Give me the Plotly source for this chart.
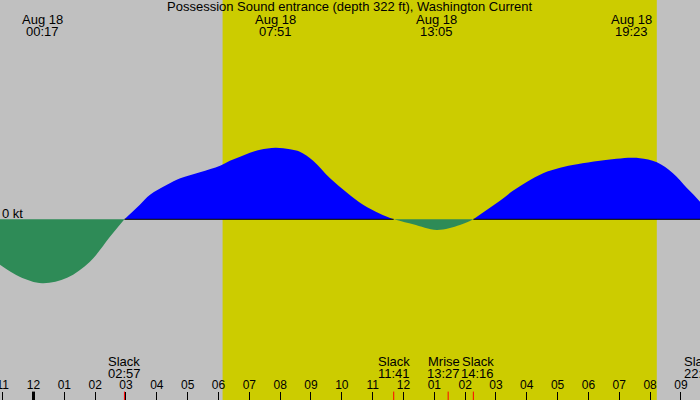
import plotly.graph_objs as go

# hours after midnight Aug 18, current in knots (+ ebb, - flood)
flood1_t = [-1.09, -0.45, 0.283, 1.09, 1.83, 2.48, 2.95]
flood1_v = [-0.91, -1.15, -1.28, -1.17, -0.85, -0.35, 0.0]

ebb1_t = [2.95, 3.45, 3.78, 4.33, 4.76, 5.40, 6.05, 6.37, 6.70, 7.02, 7.35, 7.85,
          8.32, 8.64, 9.07, 9.62, 10.17, 10.69, 11.24, 11.683]
ebb1_v = [0.0, 0.29, 0.49, 0.69, 0.82, 0.94, 1.07, 1.17, 1.25, 1.33, 1.39, 1.43,
          1.40, 1.35, 1.17, 0.82, 0.53, 0.29, 0.11, 0.0]

flood2_t = [11.683, 12.31, 13.083, 13.83, 14.267]
flood2_v = [0.0, -0.10, -0.214, -0.114, 0.0]

ebb2_t = [14.267, 14.71, 15.13, 15.55, 16.01, 16.53, 17.08, 17.63, 18.37,
          19.383, 19.67, 20.22, 20.74, 21.20, 21.62, 22.05]
ebb2_v = [0.0, 0.19, 0.37, 0.57, 0.75, 0.92, 1.03, 1.10, 1.17,
          1.23, 1.22, 1.14, 0.92, 0.62, 0.35, 0.0]

peak_times = ["00:17", "07:51", "13:05", "19:23"]
slack_times = ["02:57", "11:41", "14:16", "22:03"]
moonrise = "13:27"
sunrise = "06:08"
sunset = "20:13"

hour_vals = list(range(-1, 23))
hour_text = ["11", "12", "01", "02", "03", "04", "05", "06", "07", "08", "09", "10",
             "11", "12", "01", "02", "03", "04", "05", "06", "07", "08", "09", "10"]

title = "Possession Sound entrance (depth 322 ft), Washington Current"

x_range = [-1.0866, 21.618]
y_range = [-3.614, 4.386]

GREY = "#c0c0c0"
DAY = "#cccc00"
FONT = "Liberation Sans"
W, H = 700, 400


def to_hours(s):
    h, m = s.split(":")
    return int(h) + int(m) / 60.0


fig = go.Figure()

for t, v in [(flood1_t, flood1_v), (flood2_t, flood2_v)]:
    fig.add_trace(go.Scatter(x=t, y=v, mode="lines", line=dict(color="#2e8b57", width=0, shape="spline"),
                             fill="tozeroy", fillcolor="#2e8b57", hoverinfo="skip"))
for t, v in [(ebb1_t, ebb1_v), (ebb2_t, ebb2_v)]:
    fig.add_trace(go.Scatter(x=t, y=v, mode="lines", line=dict(color="#0000ff", width=0, shape="spline"),
                             fill="tozeroy", fillcolor="#0000ff", hoverinfo="skip"))

# black base line under the ebb parts
fig.add_trace(go.Scatter(x=[ebb1_t[0], ebb1_t[-1], None, ebb2_t[0], ebb2_t[-1]],
                         y=[0, 0, None, 0, 0], mode="lines",
                         line=dict(color="black", width=1), hoverinfo="skip"))

# daylight
fig.add_shape(type="rect", xref="x", yref="paper", x0=to_hours(sunrise), x1=to_hours(sunset),
              y0=0, y1=1, fillcolor=DAY, line_width=0, layer="below")

# midnight tick and event ticks
fig.add_shape(type="line", xref="x", yref="paper", x0=0, x1=0, y0=0, y1=0.021,
              line=dict(color="black", width=3))
for s in slack_times + [moonrise]:
    fig.add_shape(type="line", xref="x", yref="paper", x0=to_hours(s), x1=to_hours(s),
                  y0=0, y1=0.021, line=dict(color="red", width=1))

ann = []
ann.append(dict(text=title, x=0.5, y=1, xref="paper", yref="paper", yanchor="top", yshift=2,
                showarrow=False, borderpad=0))
for p in peak_times:
    x = to_hours(p)
    ann.append(dict(text="Aug 18", x=x, y=1, xref="x", yref="paper", yanchor="top", yshift=-11,
                    showarrow=False, borderpad=0))
    ann.append(dict(text=p, x=x, y=1, xref="x", yref="paper", yanchor="top", yshift=-23,
                    showarrow=False, borderpad=0))

# event labels, pushed apart when they would collide, kept inside the chart
px_per_hour = W / (x_range[1] - x_range[0])
label_w = 34
events = sorted([("Slack", s) for s in slack_times] + [("Mrise", moonrise)],
                key=lambda e: to_hours(e[1]))
shifts = [0.0] * len(events)
for i in range(1, len(events)):
    gap = (to_hours(events[i][1]) - to_hours(events[i - 1][1])) * px_per_hour
    if gap < label_w:
        push = (label_w - gap) / 2
        shifts[i - 1] -= push
        shifts[i] += push
for (name, s), dx in zip(events, shifts):
    x = min(to_hours(s), x_range[1])
    for txt, dy in [(name, 30), (s, 18)]:
        ann.append(dict(text=txt, x=x, y=0, xref="x", yref="paper", yanchor="bottom", yshift=dy,
                        xshift=dx, showarrow=False, borderpad=0))

ann.append(dict(text="0 kt", x=0, y=0, xref="paper", yref="y", xanchor="left", yanchor="bottom",
                xshift=1, yshift=-3, showarrow=False, borderpad=0))

fig.update_layout(
    width=W, height=H,
    margin=dict(l=0, r=0, t=0, b=0, pad=0, autoexpand=False),
    paper_bgcolor=GREY, plot_bgcolor=GREY,
    showlegend=False,
    font=dict(family=FONT, size=13, color="black"),
    annotations=ann,
    xaxis=dict(range=x_range, showgrid=False, zeroline=False, showline=False, automargin=False,
               tickmode="array", tickvals=hour_vals, ticktext=hour_text,
               ticks="inside", ticklen=8, tickwidth=1, tickcolor="black",
               ticklabelposition="inside", ticklabeloverflow="allow",
               tickfont=dict(size=12, color="black")),
    yaxis=dict(range=y_range, visible=False, showgrid=False, zeroline=False, automargin=False),
)

fig.write_html("out.html", config={"displayModeBar": False},
               post_script="document.body.style.margin='0';")
